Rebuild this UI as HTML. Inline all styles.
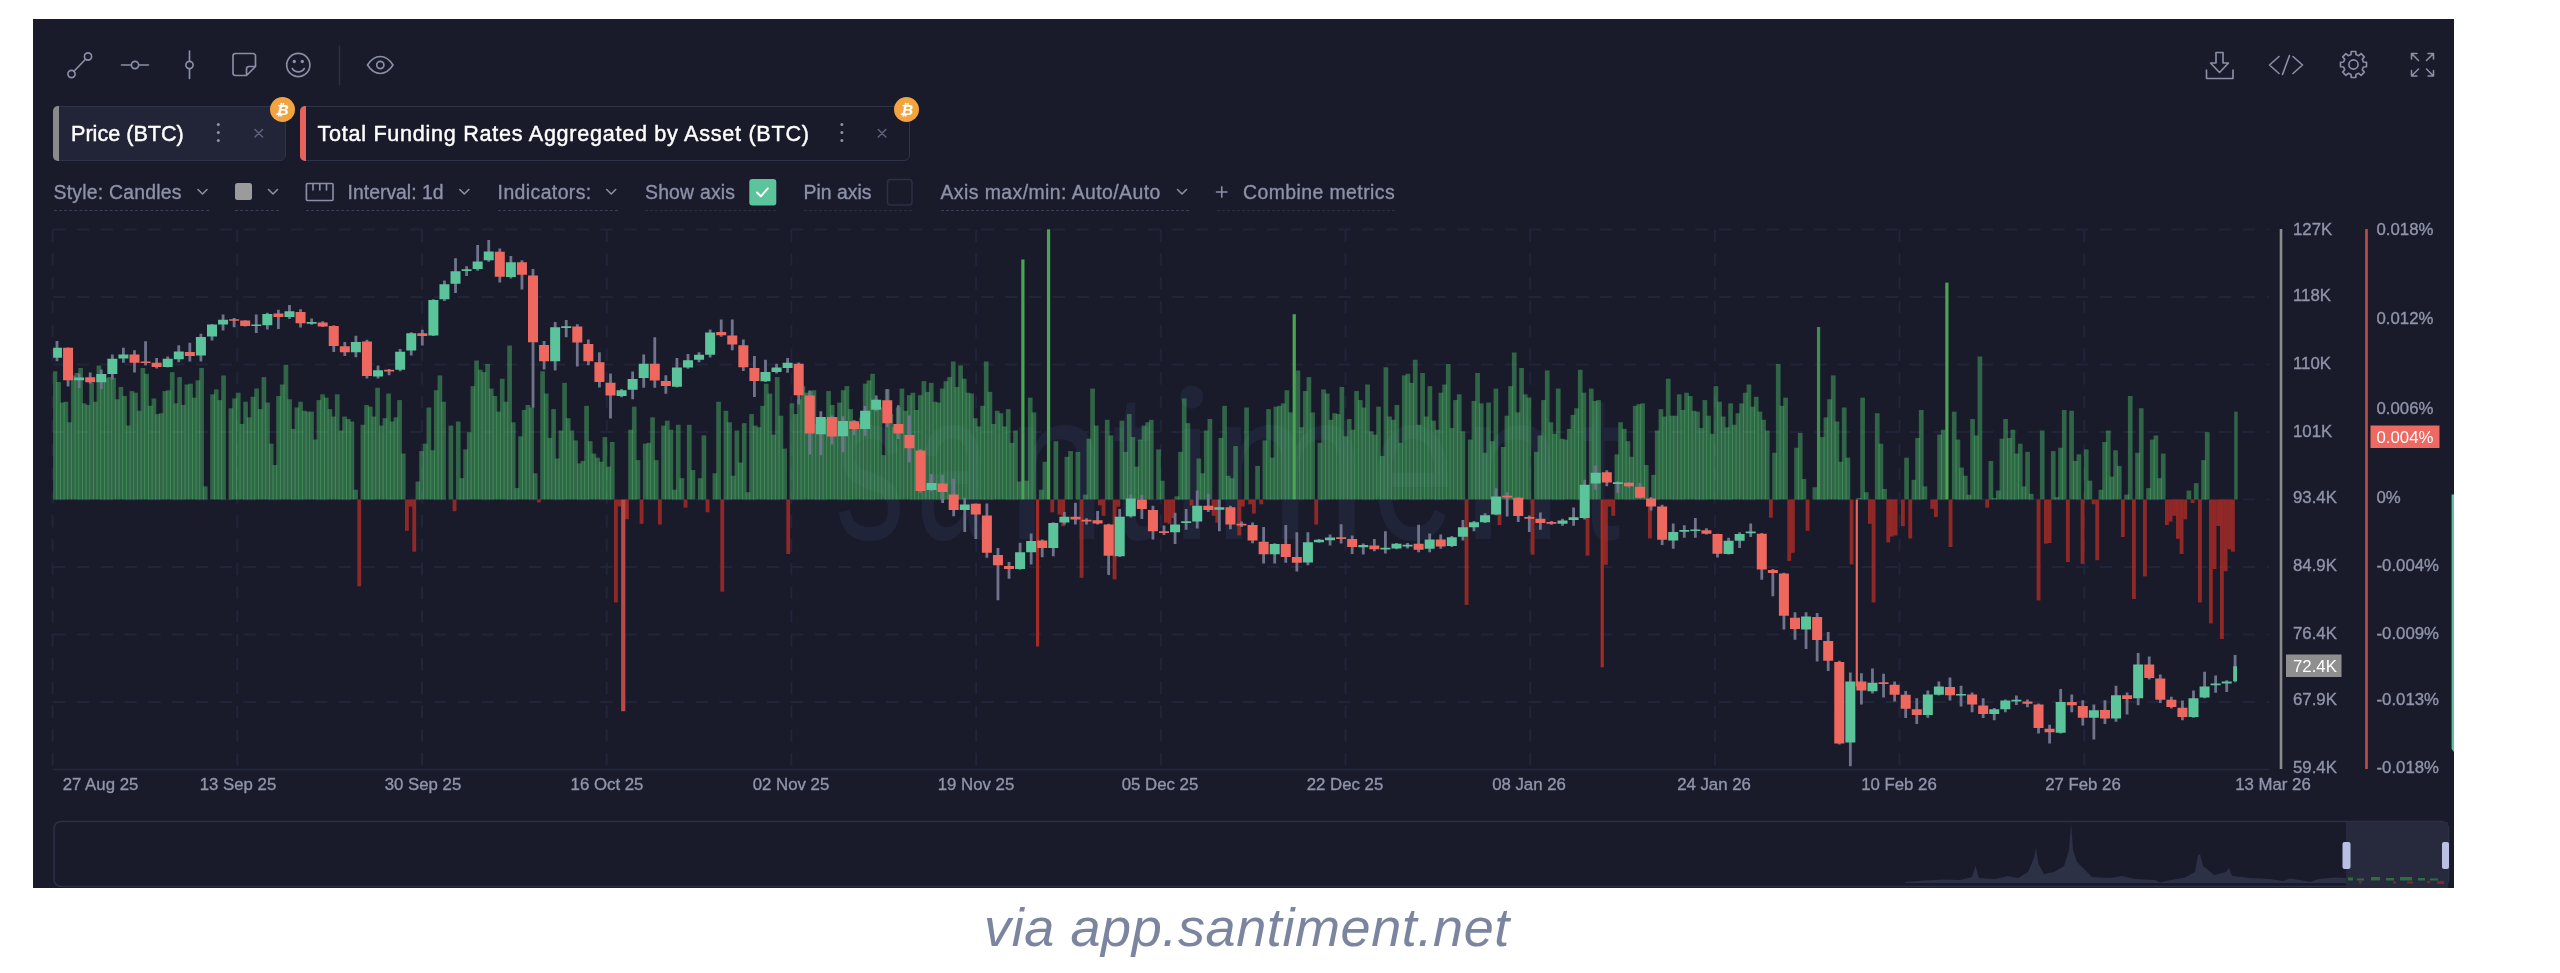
<!DOCTYPE html>
<html lang="en"><head><meta charset="utf-8"><title>Santiment chart</title>
<style>
html,body{margin:0;padding:0}
body{width:2560px;height:973px;background:#fff;position:relative;overflow:hidden;font-family:"Liberation Sans",sans-serif}
#panel{position:absolute;left:33px;top:19px;width:2421px;height:869px;background:#191b2a}
#w{position:absolute;left:0;top:0;width:2454px;height:888px;overflow:hidden;filter:blur(0.55px)}
.ab{position:absolute;white-space:nowrap}
.chip{position:absolute;top:105.5px;height:55px;border:1.6px solid #303449;border-radius:6px;box-sizing:border-box}
.chip .bar{position:absolute;left:-1px;top:-1px;bottom:-1px;width:6px;border-radius:5px 0 0 5px}
.chip .t{position:absolute;top:14.5px;font-size:21.6px;color:#fff;white-space:nowrap;-webkit-text-stroke:0.45px #fff}
.set{position:absolute;top:179px;height:32px;border-bottom:1.6px dashed #3a3e55;box-sizing:border-box;font-size:19.4px;color:#8d92a8;line-height:25px;white-space:nowrap}
.set span{position:absolute;top:0.8px;-webkit-text-stroke:0.35px #8d92a8}
.btc{position:absolute;width:25px;height:25px;border-radius:50%;background:#f2a441;color:#fff;font-size:15px;font-weight:bold;text-align:center;line-height:25px;font-style:italic}
#cap{position:absolute;left:0;width:2494px;top:896px;text-align:center;font-size:54px;font-style:italic;color:#7b85a0;letter-spacing:0.6px;white-space:nowrap;filter:blur(0.5px)}
</style></head><body>
<div id="panel"></div>
<div id="w">
<svg width="2560" height="973" viewBox="0 0 2560 973" style="position:absolute;left:0;top:0">
<defs><filter id="bl" x="0" y="0" width="2560" height="973" filterUnits="userSpaceOnUse"><feGaussianBlur stdDeviation="0.4 0.3"/></filter><clipPath id="cp"><rect x="53.1" y="225" width="2184.6" height="546"/></clipPath></defs>
<g fill="#202439" font-family="Liberation Sans, sans-serif" font-size="212"><text transform="translate(835,539) scale(0.66,1)">s</text><text transform="translate(916,539) scale(0.63,1)">a</text><text transform="translate(1007,539) scale(0.84,1)">n</text><text transform="translate(1112,539) scale(0.67,1)">t</text><rect x="1183.5" y="429" width="16.5" height="110"/><circle cx="1191.7" cy="397" r="11.5"/><text transform="translate(1213,539) scale(0.87,1)">m</text><text transform="translate(1371,539) scale(0.71,1)">e</text><text transform="translate(1463,539) scale(0.84,1)">n</text><text transform="translate(1581,539) scale(0.67,1)">t</text></g>
<g stroke="#212539" stroke-width="2" stroke-dasharray="12.5 11.3" fill="none">
<path d="M53 229.5H2269"/>
<path d="M53 297H2269"/>
<path d="M53 364.5H2269"/>
<path d="M53 432H2269"/>
<path d="M53 499.5H2269"/>
<path d="M53 567H2269"/>
<path d="M53 634.5H2269"/>
<path d="M53 702H2269"/>
<path d="M52.6 229.5V769"/>
<path d="M237.3 229.5V769"/>
<path d="M422 229.5V769"/>
<path d="M606.7 229.5V769"/>
<path d="M791.4 229.5V769"/>
<path d="M976.1 229.5V769"/>
<path d="M1160.8 229.5V769"/>
<path d="M1345.5 229.5V769"/>
<path d="M1530.2 229.5V769"/>
<path d="M1714.9 229.5V769"/>
<path d="M1899.6 229.5V769"/>
<path d="M2084.3 229.5V769"/>
</g>
<path d="M53 769.5H2269" stroke="#26293d" stroke-width="1.6"/>
<g clip-path="url(#cp)">
<g fill="#50c36e" fill-opacity="0.44" filter="url(#bl)">
<path d="M52.55 371.31h4.7V499.5h-4.7z"/>
<path d="M56.22 382h4.7V499.5h-4.7z"/>
<path d="M59.88 402.56h4.7V499.5h-4.7z"/>
<path d="M63.55 401.73h4.7V499.5h-4.7z"/>
<path d="M67.22 422.29h4.7V499.5h-4.7z"/>
<path d="M70.88 375.42h4.7V499.5h-4.7z"/>
<path d="M74.55 372.96h4.7V499.5h-4.7z"/>
<path d="M78.22 368.02h4.7V499.5h-4.7z"/>
<path d="M81.88 403.38h4.7V499.5h-4.7z"/>
<path d="M85.55 405.02h4.7V499.5h-4.7z"/>
<path d="M89.22 382.82h4.7V499.5h-4.7z"/>
<path d="M92.88 401.73h4.7V499.5h-4.7z"/>
<path d="M96.55 365.56h4.7V499.5h-4.7z"/>
<path d="M100.22 374.6h4.7V499.5h-4.7z"/>
<path d="M103.88 377.89h4.7V499.5h-4.7z"/>
<path d="M107.55 377.07h4.7V499.5h-4.7z"/>
<path d="M111.22 377.89h4.7V499.5h-4.7z"/>
<path d="M114.88 399.27h4.7V499.5h-4.7z"/>
<path d="M118.55 386.93h4.7V499.5h-4.7z"/>
<path d="M122.22 395.98h4.7V499.5h-4.7z"/>
<path d="M125.88 425.58h4.7V499.5h-4.7z"/>
<path d="M129.55 391.05h4.7V499.5h-4.7z"/>
<path d="M133.22 392.69h4.7V499.5h-4.7z"/>
<path d="M136.88 410.78h4.7V499.5h-4.7z"/>
<path d="M140.55 368.02h4.7V499.5h-4.7z"/>
<path d="M144.22 373.78h4.7V499.5h-4.7z"/>
<path d="M147.88 405.85h4.7V499.5h-4.7z"/>
<path d="M151.55 398.45h4.7V499.5h-4.7z"/>
<path d="M155.22 414.07h4.7V499.5h-4.7z"/>
<path d="M158.88 413.25h4.7V499.5h-4.7z"/>
<path d="M162.55 391.05h4.7V499.5h-4.7z"/>
<path d="M166.22 390.22h4.7V499.5h-4.7z"/>
<path d="M169.88 372.13h4.7V499.5h-4.7z"/>
<path d="M173.55 403.38h4.7V499.5h-4.7z"/>
<path d="M177.22 377.07h4.7V499.5h-4.7z"/>
<path d="M180.88 405.02h4.7V499.5h-4.7z"/>
<path d="M184.55 384.47h4.7V499.5h-4.7z"/>
<path d="M188.22 383.64h4.7V499.5h-4.7z"/>
<path d="M191.88 397.62h4.7V499.5h-4.7z"/>
<path d="M195.55 380.36h4.7V499.5h-4.7z"/>
<path d="M199.22 368.02h4.7V499.5h-4.7z"/>
<path d="M202.88 486.42h4.7V499.5h-4.7z"/>
<path d="M210.22 394.33h4.7V499.5h-4.7z"/>
<path d="M213.88 389.4h4.7V499.5h-4.7z"/>
<path d="M217.55 400.09h4.7V499.5h-4.7z"/>
<path d="M221.22 375.42h4.7V499.5h-4.7z"/>
<path d="M228.55 408.31h4.7V499.5h-4.7z"/>
<path d="M232.22 398.45h4.7V499.5h-4.7z"/>
<path d="M235.88 392.69h4.7V499.5h-4.7z"/>
<path d="M239.55 423.93h4.7V499.5h-4.7z"/>
<path d="M243.22 401.73h4.7V499.5h-4.7z"/>
<path d="M246.88 417.36h4.7V499.5h-4.7z"/>
<path d="M250.55 396.8h4.7V499.5h-4.7z"/>
<path d="M254.22 388.58h4.7V499.5h-4.7z"/>
<path d="M257.88 409.13h4.7V499.5h-4.7z"/>
<path d="M261.55 377.07h4.7V499.5h-4.7z"/>
<path d="M265.22 402.56h4.7V499.5h-4.7z"/>
<path d="M268.88 443.67h4.7V499.5h-4.7z"/>
<path d="M272.55 465.05h4.7V499.5h-4.7z"/>
<path d="M276.22 395.98h4.7V499.5h-4.7z"/>
<path d="M279.88 384.47h4.7V499.5h-4.7z"/>
<path d="M283.55 364.73h4.7V499.5h-4.7z"/>
<path d="M287.22 399.27h4.7V499.5h-4.7z"/>
<path d="M290.88 428.87h4.7V499.5h-4.7z"/>
<path d="M294.55 407.49h4.7V499.5h-4.7z"/>
<path d="M298.22 401.73h4.7V499.5h-4.7z"/>
<path d="M301.88 410.78h4.7V499.5h-4.7z"/>
<path d="M305.55 411.6h4.7V499.5h-4.7z"/>
<path d="M309.22 411.6h4.7V499.5h-4.7z"/>
<path d="M312.88 439.56h4.7V499.5h-4.7z"/>
<path d="M316.55 400.09h4.7V499.5h-4.7z"/>
<path d="M320.22 394.33h4.7V499.5h-4.7z"/>
<path d="M323.88 397.62h4.7V499.5h-4.7z"/>
<path d="M327.55 409.13h4.7V499.5h-4.7z"/>
<path d="M331.22 416.53h4.7V499.5h-4.7z"/>
<path d="M334.88 394.33h4.7V499.5h-4.7z"/>
<path d="M338.55 430.51h4.7V499.5h-4.7z"/>
<path d="M342.22 416.53h4.7V499.5h-4.7z"/>
<path d="M345.88 419h4.7V499.5h-4.7z"/>
<path d="M349.55 421.47h4.7V499.5h-4.7z"/>
<path d="M353.22 489.71h4.7V499.5h-4.7z"/>
<path d="M360.55 424.76h4.7V499.5h-4.7z"/>
<path d="M364.22 405.02h4.7V499.5h-4.7z"/>
<path d="M367.88 406.67h4.7V499.5h-4.7z"/>
<path d="M371.55 416.53h4.7V499.5h-4.7z"/>
<path d="M375.22 387.76h4.7V499.5h-4.7z"/>
<path d="M378.88 425.58h4.7V499.5h-4.7z"/>
<path d="M382.55 418.18h4.7V499.5h-4.7z"/>
<path d="M386.22 393.51h4.7V499.5h-4.7z"/>
<path d="M389.88 421.47h4.7V499.5h-4.7z"/>
<path d="M393.55 417.36h4.7V499.5h-4.7z"/>
<path d="M397.22 400.09h4.7V499.5h-4.7z"/>
<path d="M400.88 453.53h4.7V499.5h-4.7z"/>
<path d="M415.55 481.49h4.7V499.5h-4.7z"/>
<path d="M419.22 451.07h4.7V499.5h-4.7z"/>
<path d="M422.88 443.67h4.7V499.5h-4.7z"/>
<path d="M426.55 407.49h4.7V499.5h-4.7z"/>
<path d="M430.22 450.25h4.7V499.5h-4.7z"/>
<path d="M433.88 390.22h4.7V499.5h-4.7z"/>
<path d="M437.55 375.42h4.7V499.5h-4.7z"/>
<path d="M441.22 401.73h4.7V499.5h-4.7z"/>
<path d="M448.55 425.58h4.7V499.5h-4.7z"/>
<path d="M455.88 421.47h4.7V499.5h-4.7z"/>
<path d="M459.55 478.2h4.7V499.5h-4.7z"/>
<path d="M463.22 449.42h4.7V499.5h-4.7z"/>
<path d="M466.88 432.16h4.7V499.5h-4.7z"/>
<path d="M470.55 386.11h4.7V499.5h-4.7z"/>
<path d="M474.22 360.62h4.7V499.5h-4.7z"/>
<path d="M477.88 369.67h4.7V499.5h-4.7z"/>
<path d="M481.55 372.13h4.7V499.5h-4.7z"/>
<path d="M485.22 363.91h4.7V499.5h-4.7z"/>
<path d="M488.88 388.58h4.7V499.5h-4.7z"/>
<path d="M492.55 395.98h4.7V499.5h-4.7z"/>
<path d="M496.22 411.6h4.7V499.5h-4.7z"/>
<path d="M499.88 378.71h4.7V499.5h-4.7z"/>
<path d="M503.55 401.73h4.7V499.5h-4.7z"/>
<path d="M507.22 345.4h4.7V499.5h-4.7z"/>
<path d="M510.88 422.29h4.7V499.5h-4.7z"/>
<path d="M514.55 488.07h4.7V499.5h-4.7z"/>
<path d="M518.22 436.27h4.7V499.5h-4.7z"/>
<path d="M521.88 409.96h4.7V499.5h-4.7z"/>
<path d="M525.55 405.02h4.7V499.5h-4.7z"/>
<path d="M529.22 407.49h4.7V499.5h-4.7z"/>
<path d="M532.88 473.27h4.7V499.5h-4.7z"/>
<path d="M540.22 371.31h4.7V499.5h-4.7z"/>
<path d="M543.88 393.51h4.7V499.5h-4.7z"/>
<path d="M547.55 437.91h4.7V499.5h-4.7z"/>
<path d="M551.22 409.13h4.7V499.5h-4.7z"/>
<path d="M554.88 458.47h4.7V499.5h-4.7z"/>
<path d="M558.55 430.51h4.7V499.5h-4.7z"/>
<path d="M562.22 382.82h4.7V499.5h-4.7z"/>
<path d="M565.88 418.18h4.7V499.5h-4.7z"/>
<path d="M569.55 430.51h4.7V499.5h-4.7z"/>
<path d="M573.22 440.38h4.7V499.5h-4.7z"/>
<path d="M576.88 463.4h4.7V499.5h-4.7z"/>
<path d="M580.55 460.93h4.7V499.5h-4.7z"/>
<path d="M584.22 405.85h4.7V499.5h-4.7z"/>
<path d="M587.88 441.2h4.7V499.5h-4.7z"/>
<path d="M591.55 453.53h4.7V499.5h-4.7z"/>
<path d="M595.22 457.65h4.7V499.5h-4.7z"/>
<path d="M598.88 461.76h4.7V499.5h-4.7z"/>
<path d="M602.55 437.09h4.7V499.5h-4.7z"/>
<path d="M606.22 466.69h4.7V499.5h-4.7z"/>
<path d="M609.88 442.02h4.7V499.5h-4.7z"/>
<path d="M628.22 429.69h4.7V499.5h-4.7z"/>
<path d="M631.88 406.67h4.7V499.5h-4.7z"/>
<path d="M635.55 460.11h4.7V499.5h-4.7z"/>
<path d="M642.88 443.67h4.7V499.5h-4.7z"/>
<path d="M646.55 442.85h4.7V499.5h-4.7z"/>
<path d="M650.22 417.36h4.7V499.5h-4.7z"/>
<path d="M653.88 460.11h4.7V499.5h-4.7z"/>
<path d="M661.22 425.58h4.7V499.5h-4.7z"/>
<path d="M664.88 420.65h4.7V499.5h-4.7z"/>
<path d="M668.55 429.69h4.7V499.5h-4.7z"/>
<path d="M672.22 489.71h4.7V499.5h-4.7z"/>
<path d="M675.88 424.76h4.7V499.5h-4.7z"/>
<path d="M679.55 478.2h4.7V499.5h-4.7z"/>
<path d="M686.88 424.76h4.7V499.5h-4.7z"/>
<path d="M690.55 469.98h4.7V499.5h-4.7z"/>
<path d="M697.88 478.2h4.7V499.5h-4.7z"/>
<path d="M701.55 435.45h4.7V499.5h-4.7z"/>
<path d="M712.55 473.27h4.7V499.5h-4.7z"/>
<path d="M716.22 401.73h4.7V499.5h-4.7z"/>
<path d="M723.55 410.78h4.7V499.5h-4.7z"/>
<path d="M727.22 422.29h4.7V499.5h-4.7z"/>
<path d="M730.88 475.74h4.7V499.5h-4.7z"/>
<path d="M734.55 430.51h4.7V499.5h-4.7z"/>
<path d="M738.22 462.58h4.7V499.5h-4.7z"/>
<path d="M741.88 423.11h4.7V499.5h-4.7z"/>
<path d="M745.55 492.18h4.7V499.5h-4.7z"/>
<path d="M749.22 414.07h4.7V499.5h-4.7z"/>
<path d="M752.88 425.58h4.7V499.5h-4.7z"/>
<path d="M756.55 427.22h4.7V499.5h-4.7z"/>
<path d="M760.22 405.85h4.7V499.5h-4.7z"/>
<path d="M763.88 383.64h4.7V499.5h-4.7z"/>
<path d="M767.55 393.51h4.7V499.5h-4.7z"/>
<path d="M771.22 434.62h4.7V499.5h-4.7z"/>
<path d="M774.88 377.07h4.7V499.5h-4.7z"/>
<path d="M778.55 415.71h4.7V499.5h-4.7z"/>
<path d="M782.22 448.6h4.7V499.5h-4.7z"/>
<path d="M789.55 403.38h4.7V499.5h-4.7z"/>
<path d="M793.22 414.07h4.7V499.5h-4.7z"/>
<path d="M796.88 399.27h4.7V499.5h-4.7z"/>
<path d="M800.55 386.11h4.7V499.5h-4.7z"/>
<path d="M804.22 392.69h4.7V499.5h-4.7z"/>
<path d="M807.88 391.05h4.7V499.5h-4.7z"/>
<path d="M811.55 390.22h4.7V499.5h-4.7z"/>
<path d="M815.22 423.93h4.7V499.5h-4.7z"/>
<path d="M818.88 417.36h4.7V499.5h-4.7z"/>
<path d="M822.55 419h4.7V499.5h-4.7z"/>
<path d="M826.22 391.05h4.7V499.5h-4.7z"/>
<path d="M829.88 405.02h4.7V499.5h-4.7z"/>
<path d="M833.55 417.36h4.7V499.5h-4.7z"/>
<path d="M837.22 402.56h4.7V499.5h-4.7z"/>
<path d="M840.88 390.22h4.7V499.5h-4.7z"/>
<path d="M844.55 386.11h4.7V499.5h-4.7z"/>
<path d="M848.22 409.13h4.7V499.5h-4.7z"/>
<path d="M851.88 420.65h4.7V499.5h-4.7z"/>
<path d="M855.55 423.93h4.7V499.5h-4.7z"/>
<path d="M859.22 417.36h4.7V499.5h-4.7z"/>
<path d="M862.88 383.64h4.7V499.5h-4.7z"/>
<path d="M866.55 380.36h4.7V499.5h-4.7z"/>
<path d="M870.22 373.78h4.7V499.5h-4.7z"/>
<path d="M873.88 399.27h4.7V499.5h-4.7z"/>
<path d="M877.55 407.49h4.7V499.5h-4.7z"/>
<path d="M881.22 455.18h4.7V499.5h-4.7z"/>
<path d="M884.88 389.4h4.7V499.5h-4.7z"/>
<path d="M888.55 414.07h4.7V499.5h-4.7z"/>
<path d="M892.22 427.22h4.7V499.5h-4.7z"/>
<path d="M895.88 407.49h4.7V499.5h-4.7z"/>
<path d="M899.55 388.58h4.7V499.5h-4.7z"/>
<path d="M903.22 410.78h4.7V499.5h-4.7z"/>
<path d="M906.88 395.16h4.7V499.5h-4.7z"/>
<path d="M910.55 392.69h4.7V499.5h-4.7z"/>
<path d="M914.22 409.96h4.7V499.5h-4.7z"/>
<path d="M917.88 395.16h4.7V499.5h-4.7z"/>
<path d="M921.55 381.18h4.7V499.5h-4.7z"/>
<path d="M925.22 391.87h4.7V499.5h-4.7z"/>
<path d="M928.88 382.82h4.7V499.5h-4.7z"/>
<path d="M932.55 401.73h4.7V499.5h-4.7z"/>
<path d="M936.22 402.56h4.7V499.5h-4.7z"/>
<path d="M939.88 388.58h4.7V499.5h-4.7z"/>
<path d="M943.55 381.18h4.7V499.5h-4.7z"/>
<path d="M947.22 377.07h4.7V499.5h-4.7z"/>
<path d="M950.88 361.44h4.7V499.5h-4.7z"/>
<path d="M954.55 386.93h4.7V499.5h-4.7z"/>
<path d="M958.22 365.56h4.7V499.5h-4.7z"/>
<path d="M961.88 378.71h4.7V499.5h-4.7z"/>
<path d="M965.55 392.69h4.7V499.5h-4.7z"/>
<path d="M969.22 393.51h4.7V499.5h-4.7z"/>
<path d="M972.88 418.18h4.7V499.5h-4.7z"/>
<path d="M976.55 426.4h4.7V499.5h-4.7z"/>
<path d="M980.22 405.85h4.7V499.5h-4.7z"/>
<path d="M983.88 361.44h4.7V499.5h-4.7z"/>
<path d="M987.55 391.87h4.7V499.5h-4.7z"/>
<path d="M991.22 423.93h4.7V499.5h-4.7z"/>
<path d="M994.88 410.78h4.7V499.5h-4.7z"/>
<path d="M998.55 413.25h4.7V499.5h-4.7z"/>
<path d="M1002.22 426.4h4.7V499.5h-4.7z"/>
<path d="M1005.88 409.13h4.7V499.5h-4.7z"/>
<path d="M1009.55 442.85h4.7V499.5h-4.7z"/>
<path d="M1013.22 430.51h4.7V499.5h-4.7z"/>
<path d="M1016.88 481.49h4.7V499.5h-4.7z"/>
<path d="M1024.22 480.67h4.7V499.5h-4.7z"/>
<path d="M1027.88 397.62h4.7V499.5h-4.7z"/>
<path d="M1031.55 412.42h4.7V499.5h-4.7z"/>
<path d="M1038.88 489.71h4.7V499.5h-4.7z"/>
<path d="M1042.55 461.76h4.7V499.5h-4.7z"/>
<path d="M1053.55 441.2h4.7V499.5h-4.7z"/>
<path d="M1064.55 456.82h4.7V499.5h-4.7z"/>
<path d="M1068.22 451.07h4.7V499.5h-4.7z"/>
<path d="M1075.55 451.89h4.7V499.5h-4.7z"/>
<path d="M1082.88 494.65h4.7V499.5h-4.7z"/>
<path d="M1086.55 438.73h4.7V499.5h-4.7z"/>
<path d="M1090.22 388.58h4.7V499.5h-4.7z"/>
<path d="M1093.88 425.58h4.7V499.5h-4.7z"/>
<path d="M1104.88 419.82h4.7V499.5h-4.7z"/>
<path d="M1108.55 435.45h4.7V499.5h-4.7z"/>
<path d="M1119.55 420.65h4.7V499.5h-4.7z"/>
<path d="M1123.22 451.89h4.7V499.5h-4.7z"/>
<path d="M1126.88 414.07h4.7V499.5h-4.7z"/>
<path d="M1130.55 437.09h4.7V499.5h-4.7z"/>
<path d="M1134.22 466.69h4.7V499.5h-4.7z"/>
<path d="M1137.88 439.56h4.7V499.5h-4.7z"/>
<path d="M1141.55 425.58h4.7V499.5h-4.7z"/>
<path d="M1145.22 422.29h4.7V499.5h-4.7z"/>
<path d="M1148.88 419.82h4.7V499.5h-4.7z"/>
<path d="M1156.22 449.42h4.7V499.5h-4.7z"/>
<path d="M1159.88 480.67h4.7V499.5h-4.7z"/>
<path d="M1174.55 496.29h4.7V499.5h-4.7z"/>
<path d="M1178.22 451.89h4.7V499.5h-4.7z"/>
<path d="M1181.88 398.45h4.7V499.5h-4.7z"/>
<path d="M1185.55 423.11h4.7V499.5h-4.7z"/>
<path d="M1196.55 458.47h4.7V499.5h-4.7z"/>
<path d="M1200.22 473.27h4.7V499.5h-4.7z"/>
<path d="M1203.88 430.51h4.7V499.5h-4.7z"/>
<path d="M1207.55 419h4.7V499.5h-4.7z"/>
<path d="M1218.55 437.91h4.7V499.5h-4.7z"/>
<path d="M1222.22 405.85h4.7V499.5h-4.7z"/>
<path d="M1225.88 475.74h4.7V499.5h-4.7z"/>
<path d="M1229.55 478.2h4.7V499.5h-4.7z"/>
<path d="M1233.22 446.13h4.7V499.5h-4.7z"/>
<path d="M1244.22 407.49h4.7V499.5h-4.7z"/>
<path d="M1255.22 465.87h4.7V499.5h-4.7z"/>
<path d="M1262.55 440.38h4.7V499.5h-4.7z"/>
<path d="M1266.22 409.13h4.7V499.5h-4.7z"/>
<path d="M1269.88 457.65h4.7V499.5h-4.7z"/>
<path d="M1273.55 406.67h4.7V499.5h-4.7z"/>
<path d="M1277.22 405.85h4.7V499.5h-4.7z"/>
<path d="M1280.88 403.38h4.7V499.5h-4.7z"/>
<path d="M1284.55 390.22h4.7V499.5h-4.7z"/>
<path d="M1288.22 412.42h4.7V499.5h-4.7z"/>
<path d="M1295.55 370.49h4.7V499.5h-4.7z"/>
<path d="M1299.22 427.22h4.7V499.5h-4.7z"/>
<path d="M1302.88 391.05h4.7V499.5h-4.7z"/>
<path d="M1306.55 377.07h4.7V499.5h-4.7z"/>
<path d="M1310.22 412.42h4.7V499.5h-4.7z"/>
<path d="M1317.55 442.85h4.7V499.5h-4.7z"/>
<path d="M1321.22 389.4h4.7V499.5h-4.7z"/>
<path d="M1324.88 393.51h4.7V499.5h-4.7z"/>
<path d="M1328.55 419.82h4.7V499.5h-4.7z"/>
<path d="M1332.22 413.25h4.7V499.5h-4.7z"/>
<path d="M1335.88 414.07h4.7V499.5h-4.7z"/>
<path d="M1339.55 386.93h4.7V499.5h-4.7z"/>
<path d="M1343.22 436.27h4.7V499.5h-4.7z"/>
<path d="M1346.88 419h4.7V499.5h-4.7z"/>
<path d="M1350.55 429.69h4.7V499.5h-4.7z"/>
<path d="M1354.22 391.05h4.7V499.5h-4.7z"/>
<path d="M1357.88 400.09h4.7V499.5h-4.7z"/>
<path d="M1361.55 407.49h4.7V499.5h-4.7z"/>
<path d="M1365.22 384.47h4.7V499.5h-4.7z"/>
<path d="M1368.88 431.33h4.7V499.5h-4.7z"/>
<path d="M1372.55 434.62h4.7V499.5h-4.7z"/>
<path d="M1376.22 406.67h4.7V499.5h-4.7z"/>
<path d="M1379.88 456h4.7V499.5h-4.7z"/>
<path d="M1383.55 367.2h4.7V499.5h-4.7z"/>
<path d="M1387.22 416.53h4.7V499.5h-4.7z"/>
<path d="M1390.88 419.82h4.7V499.5h-4.7z"/>
<path d="M1394.55 405.02h4.7V499.5h-4.7z"/>
<path d="M1398.22 442.85h4.7V499.5h-4.7z"/>
<path d="M1401.88 375.42h4.7V499.5h-4.7z"/>
<path d="M1405.55 373.78h4.7V499.5h-4.7z"/>
<path d="M1409.22 382.82h4.7V499.5h-4.7z"/>
<path d="M1412.88 359.8h4.7V499.5h-4.7z"/>
<path d="M1416.55 424.76h4.7V499.5h-4.7z"/>
<path d="M1420.22 372.96h4.7V499.5h-4.7z"/>
<path d="M1423.88 416.53h4.7V499.5h-4.7z"/>
<path d="M1427.55 386.11h4.7V499.5h-4.7z"/>
<path d="M1431.22 420.65h4.7V499.5h-4.7z"/>
<path d="M1434.88 429.69h4.7V499.5h-4.7z"/>
<path d="M1438.55 392.69h4.7V499.5h-4.7z"/>
<path d="M1442.22 384.47h4.7V499.5h-4.7z"/>
<path d="M1445.88 363.91h4.7V499.5h-4.7z"/>
<path d="M1449.55 428.05h4.7V499.5h-4.7z"/>
<path d="M1453.22 400.09h4.7V499.5h-4.7z"/>
<path d="M1456.88 394.33h4.7V499.5h-4.7z"/>
<path d="M1460.55 431.33h4.7V499.5h-4.7z"/>
<path d="M1467.88 439.56h4.7V499.5h-4.7z"/>
<path d="M1471.55 400.91h4.7V499.5h-4.7z"/>
<path d="M1475.22 372.96h4.7V499.5h-4.7z"/>
<path d="M1478.88 403.38h4.7V499.5h-4.7z"/>
<path d="M1482.55 452.71h4.7V499.5h-4.7z"/>
<path d="M1486.22 402.56h4.7V499.5h-4.7z"/>
<path d="M1489.88 441.2h4.7V499.5h-4.7z"/>
<path d="M1493.55 388.58h4.7V499.5h-4.7z"/>
<path d="M1500.88 446.96h4.7V499.5h-4.7z"/>
<path d="M1504.55 415.71h4.7V499.5h-4.7z"/>
<path d="M1508.22 386.11h4.7V499.5h-4.7z"/>
<path d="M1511.88 352.4h4.7V499.5h-4.7z"/>
<path d="M1515.55 412.42h4.7V499.5h-4.7z"/>
<path d="M1519.22 368.02h4.7V499.5h-4.7z"/>
<path d="M1522.88 394.33h4.7V499.5h-4.7z"/>
<path d="M1526.55 397.62h4.7V499.5h-4.7z"/>
<path d="M1533.88 451.89h4.7V499.5h-4.7z"/>
<path d="M1537.55 435.45h4.7V499.5h-4.7z"/>
<path d="M1541.22 400.09h4.7V499.5h-4.7z"/>
<path d="M1544.88 370.49h4.7V499.5h-4.7z"/>
<path d="M1548.55 422.29h4.7V499.5h-4.7z"/>
<path d="M1552.22 433.8h4.7V499.5h-4.7z"/>
<path d="M1555.88 388.58h4.7V499.5h-4.7z"/>
<path d="M1559.55 438.73h4.7V499.5h-4.7z"/>
<path d="M1563.22 439.56h4.7V499.5h-4.7z"/>
<path d="M1566.88 428.87h4.7V499.5h-4.7z"/>
<path d="M1570.55 414.89h4.7V499.5h-4.7z"/>
<path d="M1574.22 408.31h4.7V499.5h-4.7z"/>
<path d="M1577.88 369.67h4.7V499.5h-4.7z"/>
<path d="M1581.55 392.69h4.7V499.5h-4.7z"/>
<path d="M1588.88 388.58h4.7V499.5h-4.7z"/>
<path d="M1592.55 400.91h4.7V499.5h-4.7z"/>
<path d="M1596.22 400.09h4.7V499.5h-4.7z"/>
<path d="M1614.55 454.36h4.7V499.5h-4.7z"/>
<path d="M1618.22 422.29h4.7V499.5h-4.7z"/>
<path d="M1621.88 428.87h4.7V499.5h-4.7z"/>
<path d="M1625.55 441.2h4.7V499.5h-4.7z"/>
<path d="M1629.22 456.82h4.7V499.5h-4.7z"/>
<path d="M1632.88 405.85h4.7V499.5h-4.7z"/>
<path d="M1636.55 404.2h4.7V499.5h-4.7z"/>
<path d="M1640.22 403.38h4.7V499.5h-4.7z"/>
<path d="M1643.88 465.05h4.7V499.5h-4.7z"/>
<path d="M1651.22 474.91h4.7V499.5h-4.7z"/>
<path d="M1654.88 430.51h4.7V499.5h-4.7z"/>
<path d="M1658.55 409.13h4.7V499.5h-4.7z"/>
<path d="M1662.22 416.53h4.7V499.5h-4.7z"/>
<path d="M1665.88 378.71h4.7V499.5h-4.7z"/>
<path d="M1669.55 415.71h4.7V499.5h-4.7z"/>
<path d="M1673.22 415.71h4.7V499.5h-4.7z"/>
<path d="M1676.88 394.33h4.7V499.5h-4.7z"/>
<path d="M1680.55 409.96h4.7V499.5h-4.7z"/>
<path d="M1684.22 392.69h4.7V499.5h-4.7z"/>
<path d="M1687.88 395.98h4.7V499.5h-4.7z"/>
<path d="M1691.55 410.78h4.7V499.5h-4.7z"/>
<path d="M1695.22 411.6h4.7V499.5h-4.7z"/>
<path d="M1698.88 428.05h4.7V499.5h-4.7z"/>
<path d="M1702.55 400.09h4.7V499.5h-4.7z"/>
<path d="M1706.22 415.71h4.7V499.5h-4.7z"/>
<path d="M1709.88 433.8h4.7V499.5h-4.7z"/>
<path d="M1713.55 386.11h4.7V499.5h-4.7z"/>
<path d="M1717.22 401.73h4.7V499.5h-4.7z"/>
<path d="M1720.88 416.53h4.7V499.5h-4.7z"/>
<path d="M1724.55 427.22h4.7V499.5h-4.7z"/>
<path d="M1728.22 403.38h4.7V499.5h-4.7z"/>
<path d="M1731.88 424.76h4.7V499.5h-4.7z"/>
<path d="M1735.55 413.25h4.7V499.5h-4.7z"/>
<path d="M1739.22 403.38h4.7V499.5h-4.7z"/>
<path d="M1742.88 392.69h4.7V499.5h-4.7z"/>
<path d="M1746.55 384.47h4.7V499.5h-4.7z"/>
<path d="M1750.22 406.67h4.7V499.5h-4.7z"/>
<path d="M1753.88 396.8h4.7V499.5h-4.7z"/>
<path d="M1757.55 411.6h4.7V499.5h-4.7z"/>
<path d="M1761.22 419.82h4.7V499.5h-4.7z"/>
<path d="M1764.88 430.51h4.7V499.5h-4.7z"/>
<path d="M1772.22 452.71h4.7V499.5h-4.7z"/>
<path d="M1775.88 363.91h4.7V499.5h-4.7z"/>
<path d="M1779.55 405.85h4.7V499.5h-4.7z"/>
<path d="M1783.22 397.62h4.7V499.5h-4.7z"/>
<path d="M1794.22 447.78h4.7V499.5h-4.7z"/>
<path d="M1797.88 432.98h4.7V499.5h-4.7z"/>
<path d="M1801.55 479.02h4.7V499.5h-4.7z"/>
<path d="M1812.55 487.25h4.7V499.5h-4.7z"/>
<path d="M1819.88 437.09h4.7V499.5h-4.7z"/>
<path d="M1823.55 417.36h4.7V499.5h-4.7z"/>
<path d="M1827.22 399.27h4.7V499.5h-4.7z"/>
<path d="M1830.88 375.42h4.7V499.5h-4.7z"/>
<path d="M1834.55 421.47h4.7V499.5h-4.7z"/>
<path d="M1838.22 461.76h4.7V499.5h-4.7z"/>
<path d="M1841.88 407.49h4.7V499.5h-4.7z"/>
<path d="M1845.55 457.65h4.7V499.5h-4.7z"/>
<path d="M1856.55 497.94h4.7V499.5h-4.7z"/>
<path d="M1860.22 397.62h4.7V499.5h-4.7z"/>
<path d="M1863.88 492.18h4.7V499.5h-4.7z"/>
<path d="M1874.88 413.25h4.7V499.5h-4.7z"/>
<path d="M1878.55 443.67h4.7V499.5h-4.7z"/>
<path d="M1882.22 488.89h4.7V499.5h-4.7z"/>
<path d="M1904.22 457.65h4.7V499.5h-4.7z"/>
<path d="M1911.55 479.85h4.7V499.5h-4.7z"/>
<path d="M1915.22 437.91h4.7V499.5h-4.7z"/>
<path d="M1918.88 409.96h4.7V499.5h-4.7z"/>
<path d="M1922.55 486.42h4.7V499.5h-4.7z"/>
<path d="M1937.22 434.62h4.7V499.5h-4.7z"/>
<path d="M1940.88 429.69h4.7V499.5h-4.7z"/>
<path d="M1951.88 411.6h4.7V499.5h-4.7z"/>
<path d="M1955.55 439.56h4.7V499.5h-4.7z"/>
<path d="M1959.22 467.51h4.7V499.5h-4.7z"/>
<path d="M1962.88 475.74h4.7V499.5h-4.7z"/>
<path d="M1966.55 494.65h4.7V499.5h-4.7z"/>
<path d="M1970.22 419h4.7V499.5h-4.7z"/>
<path d="M1973.88 435.45h4.7V499.5h-4.7z"/>
<path d="M1977.55 356.51h4.7V499.5h-4.7z"/>
<path d="M1988.55 460.93h4.7V499.5h-4.7z"/>
<path d="M1992.22 497.94h4.7V499.5h-4.7z"/>
<path d="M1995.88 490.54h4.7V499.5h-4.7z"/>
<path d="M1999.55 438.73h4.7V499.5h-4.7z"/>
<path d="M2003.22 419h4.7V499.5h-4.7z"/>
<path d="M2006.88 437.91h4.7V499.5h-4.7z"/>
<path d="M2010.55 429.69h4.7V499.5h-4.7z"/>
<path d="M2014.22 453.53h4.7V499.5h-4.7z"/>
<path d="M2017.88 443.67h4.7V499.5h-4.7z"/>
<path d="M2021.55 486.42h4.7V499.5h-4.7z"/>
<path d="M2025.22 451.89h4.7V499.5h-4.7z"/>
<path d="M2028.88 493.82h4.7V499.5h-4.7z"/>
<path d="M2039.88 430.51h4.7V499.5h-4.7z"/>
<path d="M2050.88 451.07h4.7V499.5h-4.7z"/>
<path d="M2054.55 497.11h4.7V499.5h-4.7z"/>
<path d="M2058.22 447.78h4.7V499.5h-4.7z"/>
<path d="M2061.88 409.96h4.7V499.5h-4.7z"/>
<path d="M2069.22 410.78h4.7V499.5h-4.7z"/>
<path d="M2072.88 460.93h4.7V499.5h-4.7z"/>
<path d="M2076.55 454.36h4.7V499.5h-4.7z"/>
<path d="M2083.88 449.42h4.7V499.5h-4.7z"/>
<path d="M2087.55 480.67h4.7V499.5h-4.7z"/>
<path d="M2098.55 489.71h4.7V499.5h-4.7z"/>
<path d="M2102.22 442.02h4.7V499.5h-4.7z"/>
<path d="M2105.88 430.51h4.7V499.5h-4.7z"/>
<path d="M2109.55 476.56h4.7V499.5h-4.7z"/>
<path d="M2113.22 450.25h4.7V499.5h-4.7z"/>
<path d="M2116.88 465.87h4.7V499.5h-4.7z"/>
<path d="M2124.22 494.65h4.7V499.5h-4.7z"/>
<path d="M2127.88 395.98h4.7V499.5h-4.7z"/>
<path d="M2135.22 452.71h4.7V499.5h-4.7z"/>
<path d="M2138.88 408.31h4.7V499.5h-4.7z"/>
<path d="M2146.22 488.07h4.7V499.5h-4.7z"/>
<path d="M2149.88 439.56h4.7V499.5h-4.7z"/>
<path d="M2153.55 435.45h4.7V499.5h-4.7z"/>
<path d="M2157.22 478.2h4.7V499.5h-4.7z"/>
<path d="M2160.88 453.53h4.7V499.5h-4.7z"/>
<path d="M2186.55 490.54h4.7V499.5h-4.7z"/>
<path d="M2193.88 483.14h4.7V499.5h-4.7z"/>
<path d="M2201.22 460.11h4.7V499.5h-4.7z"/>
<path d="M2204.88 432.16h4.7V499.5h-4.7z"/>
<path d="M2234.22 411.6h4.7V499.5h-4.7z"/>
</g>
<g fill="#b82d28" fill-opacity="0.74" filter="url(#bl)">
<path d="M357.28 499.5h3.9V586.3h-3.9z"/>
<path d="M404.95 499.5h3.9V530.8h-3.9z"/>
<path d="M408.62 499.5h3.9V506.6h-3.9z"/>
<path d="M412.28 499.5h3.9V551.7h-3.9z"/>
<path d="M452.62 499.5h3.9V511.2h-3.9z"/>
<path d="M536.95 499.5h3.9V502.4h-3.9z"/>
<path d="M613.95 499.5h3.9V602.5h-3.9z"/>
<path d="M617.62 499.5h3.9V506.5h-3.9z"/>
<path d="M624.95 499.5h3.9V519.3h-3.9z"/>
<path d="M639.62 499.5h3.9V523.9h-3.9z"/>
<path d="M657.95 499.5h3.9V524.6h-3.9z"/>
<path d="M683.62 499.5h3.9V507.7h-3.9z"/>
<path d="M705.62 499.5h3.9V512.3h-3.9z"/>
<path d="M720.28 499.5h3.9V591.7h-3.9z"/>
<path d="M786.28 499.5h3.9V554h-3.9z"/>
<path d="M1050.28 499.5h3.9V512.3h-3.9z"/>
<path d="M1057.62 499.5h3.9V514.7h-3.9z"/>
<path d="M1061.28 499.5h3.9V526.2h-3.9z"/>
<path d="M1079.62 499.5h3.9V577.8h-3.9z"/>
<path d="M1097.95 499.5h3.9V505.4h-3.9z"/>
<path d="M1101.62 499.5h3.9V515.8h-3.9z"/>
<path d="M1112.62 499.5h3.9V579.4h-3.9z"/>
<path d="M1116.28 499.5h3.9V506.6h-3.9z"/>
<path d="M1163.95 499.5h3.9V522.75h-3.9z"/>
<path d="M1167.62 499.5h3.9V523.9h-3.9z"/>
<path d="M1171.28 499.5h3.9V518.1h-3.9z"/>
<path d="M1189.62 499.5h3.9V505.4h-3.9z"/>
<path d="M1211.62 499.5h3.9V515.8h-3.9z"/>
<path d="M1215.28 499.5h3.9V522.75h-3.9z"/>
<path d="M1237.28 499.5h3.9V535.5h-3.9z"/>
<path d="M1240.95 499.5h3.9V506.6h-3.9z"/>
<path d="M1248.28 499.5h3.9V504.25h-3.9z"/>
<path d="M1251.95 499.5h3.9V513.5h-3.9z"/>
<path d="M1259.28 499.5h3.9V504.25h-3.9z"/>
<path d="M1314.28 499.5h3.9V524.6h-3.9z"/>
<path d="M1464.62 499.5h3.9V604.9h-3.9z"/>
<path d="M1497.62 499.5h3.9V525.1h-3.9z"/>
<path d="M1530.62 499.5h3.9V554.7h-3.9z"/>
<path d="M1585.62 499.5h3.9V555.6h-3.9z"/>
<path d="M1603.95 499.5h3.9V564.8h-3.9z"/>
<path d="M1607.62 499.5h3.9V506.6h-3.9z"/>
<path d="M1611.28 499.5h3.9V515.8h-3.9z"/>
<path d="M1647.95 499.5h3.9V538.5h-3.9z"/>
<path d="M1768.95 499.5h3.9V517.7h-3.9z"/>
<path d="M1787.28 499.5h3.9V560.9h-3.9z"/>
<path d="M1790.95 499.5h3.9V552.8h-3.9z"/>
<path d="M1805.62 499.5h3.9V530.8h-3.9z"/>
<path d="M1849.62 499.5h3.9V564.4h-3.9z"/>
<path d="M1867.95 499.5h3.9V523.9h-3.9z"/>
<path d="M1871.62 499.5h3.9V602.5h-3.9z"/>
<path d="M1886.28 499.5h3.9V542.4h-3.9z"/>
<path d="M1889.95 499.5h3.9V536.6h-3.9z"/>
<path d="M1893.62 499.5h3.9V535.5h-3.9z"/>
<path d="M1900.95 499.5h3.9V526.2h-3.9z"/>
<path d="M1908.28 499.5h3.9V538.5h-3.9z"/>
<path d="M1930.28 499.5h3.9V508.9h-3.9z"/>
<path d="M1933.95 499.5h3.9V517h-3.9z"/>
<path d="M1948.62 499.5h3.9V547h-3.9z"/>
<path d="M1985.28 499.5h3.9V507.7h-3.9z"/>
<path d="M2036.62 499.5h3.9V600.5h-3.9z"/>
<path d="M2043.95 499.5h3.9V543.6h-3.9z"/>
<path d="M2047.62 499.5h3.9V543.1h-3.9z"/>
<path d="M2065.95 499.5h3.9V562.1h-3.9z"/>
<path d="M2080.62 499.5h3.9V563.9h-3.9z"/>
<path d="M2091.62 499.5h3.9V504.25h-3.9z"/>
<path d="M2095.28 499.5h3.9V560.2h-3.9z"/>
<path d="M2120.95 499.5h3.9V537.1h-3.9z"/>
<path d="M2131.95 499.5h3.9V599.1h-3.9z"/>
<path d="M2142.95 499.5h3.9V576.4h-3.9z"/>
<path d="M2164.95 499.5h3.9V525.1h-3.9z"/>
<path d="M2168.62 499.5h3.9V521.6h-3.9z"/>
<path d="M2172.28 499.5h3.9V515.8h-3.9z"/>
<path d="M2175.95 499.5h3.9V538.9h-3.9z"/>
<path d="M2179.62 499.5h3.9V554h-3.9z"/>
<path d="M2183.28 499.5h3.9V519.3h-3.9z"/>
<path d="M2190.62 499.5h3.9V503.1h-3.9z"/>
<path d="M2197.95 499.5h3.9V602.5h-3.9z"/>
<path d="M2208.95 499.5h3.9V623.4h-3.9z"/>
<path d="M2212.62 499.5h3.9V569h-3.9z"/>
<path d="M2216.28 499.5h3.9V526h-3.9z"/>
<path d="M2219.95 499.5h3.9V638.9h-3.9z"/>
<path d="M2223.62 499.5h3.9V571.3h-3.9z"/>
<path d="M2227.28 499.5h3.9V549.3h-3.9z"/>
<path d="M2230.95 499.5h3.9V551.7h-3.9z"/>
</g>
<rect x="621.13" y="499.5" width="4.2" height="211.7" fill="#b84a48"/>
<rect x="1021.3" y="259.5" width="3.2" height="240" fill="#4aa652"/>
<rect x="1035.97" y="499.5" width="3.2" height="147" fill="#a52b27"/>
<rect x="1046.97" y="229.3" width="3.2" height="270.2" fill="#4aa652"/>
<rect x="1292.63" y="314.2" width="3.2" height="185.3" fill="#4aa652"/>
<rect x="1600.63" y="499.5" width="3.2" height="167.8" fill="#a52b27"/>
<rect x="1816.97" y="327" width="3.2" height="172.5" fill="#3f8f50"/>
<rect x="1945.3" y="282.6" width="3.2" height="216.9" fill="#4aa652"/>
<rect x="1855.7" y="499.5" width="2.2" height="187" fill="#ea655c"/>
<path d="M57 340.94V361.25M68.07 347.5V386.56M79.14 373.75V388.12M90.21 372.5V383.44M101.28 369.38V388.91M112.35 354.53V379.53M123.42 347.81V362.81M134.49 350.31V372.5M145.56 341.25V365.47M156.63 358.12V368.59M167.7 356.56V367.5M178.77 345.16V362.34M189.84 342.81V361.56M200.91 333.75V361.56M211.98 324.06V340.47M223.05 314.38V330.62M234.12 318.12V327.19M245.19 320.16V326.41M256.26 314.38V333.12M267.33 312.81V329.53M278.4 309.69V329.06M289.47 305V319.06M300.54 309.22V327.5M311.61 318.59V324.84M322.68 321.25V326.88M333.75 325.31V351.88M344.82 342.03V356.09M355.89 335.78V357.19M366.96 339.69V378.44M378.03 365.47V378.44M389.1 369.06V375.31M400.17 348.88V371.22M411.24 332.16V355.59M422.31 329.81V345.44M433.38 299.34V336.06M444.45 280.59V300.91M455.52 258.25V293.09M466.59 266.22V275.91M477.66 245.12V270.75M488.73 239.97V261.84M499.8 248.56V282.62M510.87 256.06V278.56M521.94 260.28V289.5M533.01 268.88V407.81M544.08 340.94V369.53M555.15 321.88V370.62M566.22 320V337.19M577.29 324.22V366.41M588.36 339.38V365.31M599.43 352.34V387.5M610.5 373.44V418.44M621.57 389.06V397.19M632.64 371.56V399.22M643.71 354.38V387.81M654.78 337.19V387.81M665.85 375.31V393.75M676.92 358.12V387.5M687.99 353.91V368.75M699.06 352.34V362.19M710.13 329.38V357.5M721.2 319.53V336.72M732.27 319.53V350.31M743.34 339.38V371.09M754.41 355.94V396.88M765.48 359.69V382.03M776.55 363.75V373.44M787.62 358.12V372.66M798.69 362.5V404.38M809.76 390.47V454.53M820.83 411.25V455.31M831.9 415.47V444.38M842.97 416.25V452.19M854.04 420.16V435M865.11 406.09V435.78M876.18 395.62V411.25M887.25 388.91V427.19M898.32 405.31V438.91M909.39 415.47V462.34M920.46 449.06V492.81M931.53 474.06V491.25M942.6 474.84V502.97M953.67 478.75V516.25M964.74 497.5V531.88M975.81 503.44V539.06M986.88 503.44V557.81M997.95 547.97V600.31M1009.02 562.03V578.75M1020.09 542.81V569.84M1031.16 533.44V564.38M1042.23 539.38V557.34M1053.3 522.19V556.25M1064.37 512.03V524.53M1075.44 502.66V524.53M1086.51 518.28V524.53M1097.58 510.94V524.53M1108.65 523.75V575M1119.72 508.91V556.88M1130.79 494.38V517.5M1141.86 494.84V519.06M1152.93 505.78V539.38M1164 525.62V535M1175.07 512.81V544.06M1186.14 508.91V529.69M1197.21 490.62V528.44M1208.28 493.75V512.03M1219.35 499.53V531.25M1230.42 505.78V529.22M1241.49 521.41V526.88M1252.56 522.5V543.28M1263.63 526.88V563.59M1274.7 543.28V563.59M1285.77 525V562.81M1296.84 532.34V571.41M1307.91 532.34V565.16M1318.98 539.06V542.81M1330.05 534.38V545.62M1341.12 524.22V543.44M1352.19 535.62V553.91M1363.26 543.44V554.38M1374.33 539.06V551.25M1385.4 531.25V553.44M1396.47 542.97V549.22M1407.54 542.97V548.44M1418.61 524.69V552.34M1429.68 533.59V552.34M1440.75 534.38V548.75M1451.82 535.94V546.88M1462.89 520V540.62M1473.96 521.09V531.25M1485.03 513.28V523.12M1496.1 488.28V515.31M1507.17 492.19V516.41M1518.24 496.88V521.88M1529.31 515.62V532.03M1540.38 512.5V529.69M1551.45 521.09V524.69M1562.52 518.75V525.78M1573.59 507.5V525.78M1584.66 479.69V519.53M1595.73 465.62V489.84M1606.8 470.31V486.25M1617.87 480.94V492.97M1628.94 482.03V487.5M1640.01 483.12V498.44M1651.08 496.88V510.62M1662.15 504.69V545M1673.22 523.44V548.75M1684.29 525.16V537.66M1695.36 518.12V537.66M1706.43 528.28V534.53M1717.5 533.75V557.5M1728.57 537.66V554.38M1739.64 532.19V548.12M1750.71 523.59V536.88M1761.78 532.97V579.84M1772.85 568.91V596.25M1783.92 572.81V629.38M1794.99 612.34V639.69M1806.06 612.34V649.06M1817.13 613.12V661.56M1828.2 631.88V670.94M1839.27 660.78V744.38M1850.34 672.5V766.25M1861.41 673.28V704.53M1872.48 668.59V693.59M1883.55 673.75V697.5M1894.62 681.56V701.41M1905.69 690.94V718.12M1916.76 698.28V724.06M1927.83 690.47V717.81M1938.9 681.56V695.62M1949.97 677.5V700.62M1961.04 685.78V706.56M1972.11 692.5V712.34M1983.18 698.28V718.12M1994.25 708.12V720.16M2005.32 699.38V712.34M2016.39 695.62V705M2027.46 699.38V707.19M2038.53 703.44V733.44M2049.6 724.84V743.59M2060.67 688.91V733.44M2071.74 694.38V712.34M2082.81 700.31V725.62M2093.88 704.53V739.38M2104.95 700.31V724.06M2116.02 685.78V721.72M2127.09 692.5V714.38M2138.16 652.97V705.31M2149.23 656.56V679.53M2160.3 674.38V702.97M2171.37 696.72V708.44M2182.44 700.62V720.16M2193.51 690.47V717.81M2204.58 671.72V698.28M2215.65 675.62V692.81M2226.72 680.31V692.03M2235.1 655V682.19" stroke="#6f748c" stroke-width="2.8" fill="none"/>
<path d="M52 347.81h10V357.66h-10zM74.14 377.5h10V380.31h-10zM96.28 374.06h10V382.19h-10zM107.35 358.75h10V374.06h-10zM118.42 354.53h10V358.44h-10zM162.7 358.75h10V367.03h-10zM173.77 351.41h10V359.22h-10zM195.91 336.88h10V355.62h-10zM206.98 324.38h10V336.56h-10zM218.05 319.69h10V324.38h-10zM251.26 324.38h10V326.08h-10zM262.33 313.91h10V325.31h-10zM284.47 311.25h10V317.03h-10zM306.61 322.12h10V323.82h-10zM350.89 342.03h10V352.19h-10zM373.03 370.16h10V376.41h-10zM395.17 351.69h10V369.66h-10zM406.24 333.25h10V350.44h-10zM428.38 300.12h10V335.59h-10zM439.45 284.19h10V299.34h-10zM450.52 271.22h10V283.72h-10zM461.59 269.2h10V270.9h-10zM472.66 261.38h10V268.88h-10zM483.73 251.38h10V260.28h-10zM505.87 262.31h10V277h-10zM550.15 327.34h10V361.25h-10zM561.22 326.18h10V327.88h-10zM616.57 390.31h10V396.09h-10zM627.64 378.91h10V389.84h-10zM638.71 363.75h10V378.12h-10zM671.92 367.5h10V386.72h-10zM682.99 360.16h10V367.5h-10zM694.06 354.69h10V359.69h-10zM705.13 332.5h10V354.69h-10zM760.48 371.88h10V381.25h-10zM771.55 367.5h10V371.88h-10zM782.62 362.81h10V367.97h-10zM815.83 417.03h10V434.22h-10zM837.97 420.94h10V436.25h-10zM860.11 410.78h10V429.06h-10zM871.18 399.84h10V409.69h-10zM926.53 483.12h10V490h-10zM959.74 504.53h10V510h-10zM1015.09 552.19h10V569.06h-10zM1026.16 540.94h10V552.19h-10zM1048.3 522.97h10V547.97h-10zM1059.37 516.72h10V522.5h-10zM1114.72 516.72h10V556.25h-10zM1125.79 498.44h10V516.25h-10zM1170.07 524.53h10V532.34h-10zM1181.14 521.34h10V523.04h-10zM1192.21 505.78h10V521.41h-10zM1214.35 507.34h10V509.69h-10zM1269.7 544.06h10V554.22h-10zM1302.91 542.19h10V562.5h-10zM1313.98 539.69h10V542.19h-10zM1325.05 537.5h10V540.31h-10zM1358.26 545h10V547.19h-10zM1380.4 547.74h10V549.44h-10zM1391.47 543.75h10V548.44h-10zM1402.54 544.85h10V546.55h-10zM1424.68 539.38h10V548.75h-10zM1446.82 537.19h10V546.09h-10zM1457.89 527.34h10V536.72h-10zM1468.96 522.19h10V527.34h-10zM1480.03 515.31h10V522.19h-10zM1491.1 496.56h10V514.38h-10zM1557.52 520.62h10V523.75h-10zM1568.59 517.19h10V520h-10zM1579.66 484.69h10V517.97h-10zM1590.73 472.66h10V483.59h-10zM1612.87 482.35h10V484.05h-10zM1668.22 532.03h10V540.62h-10zM1679.29 530.01h10V531.71h-10zM1690.36 529.38h10V531.08h-10zM1723.57 540.78h10V554.06h-10zM1734.64 534.06h10V540.78h-10zM1745.71 531.57h10V533.27h-10zM1801.06 616.56h10V629.53h-10zM1845.34 681.56h10V742.5h-10zM1867.48 682.66h10V691.25h-10zM1922.83 694.38h10V715h-10zM1933.9 686.56h10V694.69h-10zM1956.04 693.92h10V695.62h-10zM1989.25 709.22h10V713.91h-10zM2000.32 700.62h10V709.22h-10zM2011.39 699.7h10V701.4h-10zM2055.67 701.88h10V732.66h-10zM2088.88 710.31h10V717.81h-10zM2111.02 695.16h10V718.59h-10zM2133.16 664.38h10V698.28h-10zM2188.51 698.28h10V717.03h-10zM2199.58 686.56h10V697.5h-10zM2210.65 683.44h10V685.31h-10zM2221.72 681.56h10V683.44h-10zM2233.2 666.25h3.8V681.09h-3.8z" fill="#5bc49b"/>
<path d="M63.07 347.81h10V380.31h-10zM85.21 377.19h10V382.19h-10zM129.49 354.53h10V362.66h-10zM140.56 361.42h10V363.12h-10zM151.63 362.66h10V367.03h-10zM184.84 351.88h10V356.09h-10zM229.12 319.15h10V320.85h-10zM240.19 320.62h10V325.94h-10zM273.4 313.44h10V317.03h-10zM295.54 311.88h10V323.28h-10zM317.68 322.5h10V326.41h-10zM328.75 325.94h10V345.94h-10zM339.82 346.25h10V352.19h-10zM361.96 341.56h10V375.94h-10zM384.1 369.7h10V371.4h-10zM417.31 333.25h10V336.06h-10zM494.8 251.69h10V276.69h-10zM516.94 262.31h10V274.81h-10zM528.01 275.44h10V342.19h-10zM539.08 345h10V361.25h-10zM572.29 326.56h10V342.5h-10zM583.36 344.06h10V361.25h-10zM594.43 362.19h10V382.03h-10zM605.5 382.81h10V395.62h-10zM649.78 363.75h10V380.47h-10zM660.85 380.94h10V385.94h-10zM716.2 332.03h10V335.16h-10zM727.27 335.62h10V344.53h-10zM738.34 345.31h10V367.19h-10zM749.41 367.97h10V380.94h-10zM793.69 363.75h10V395.31h-10zM804.76 395.62h10V433.44h-10zM826.9 417.03h10V436.56h-10zM849.04 421.25h10V429.06h-10zM882.25 400.31h10V423.28h-10zM893.32 424.06h10V433.44h-10zM904.39 435h10V448.28h-10zM915.46 450.62h10V490.94h-10zM937.6 483.44h10V492.03h-10zM948.67 494.38h10V510h-10zM970.81 503.75h10V514.38h-10zM981.88 515.62h10V552.66h-10zM992.95 555h10V565.16h-10zM1004.02 565.94h10V569.06h-10zM1037.23 540.62h10V547.97h-10zM1070.44 516.72h10V519.38h-10zM1081.51 519.77h10V521.48h-10zM1092.58 520.31h10V523.44h-10zM1103.65 524.53h10V555.78h-10zM1136.86 499.53h10V508.91h-10zM1147.93 510h10V531.25h-10zM1159 531.18h10V532.88h-10zM1203.28 505.78h10V510h-10zM1225.42 507.34h10V524.53h-10zM1236.49 523.76h10V525.46h-10zM1247.56 525h10V540.62h-10zM1258.63 541.72h10V554.22h-10zM1280.77 544.06h10V556.88h-10zM1291.84 556.88h10V562.81h-10zM1336.12 537.27h10V538.98h-10zM1347.19 539.06h10V546.88h-10zM1369.33 545.62h10V549.22h-10zM1413.61 543.75h10V549.69h-10zM1435.75 539.38h10V546.56h-10zM1502.17 495.79h10V497.49h-10zM1513.24 497.66h10V515.94h-10zM1524.31 516.88h10V518.75h-10zM1535.38 518.75h10V523.12h-10zM1546.45 522.12h10V523.82h-10zM1601.8 472.19h10V482.5h-10zM1623.94 482.81h10V486.25h-10zM1635.01 486.72h10V497.66h-10zM1646.08 498.44h10V506.56h-10zM1657.15 506.56h10V539.84h-10zM1701.43 530.31h10V533.75h-10zM1712.5 534.06h10V553.75h-10zM1756.78 533.75h10V569.38h-10zM1767.85 570h10V573.12h-10zM1778.92 573.59h10V615.78h-10zM1789.99 617.81h10V629.06h-10zM1812.13 617.03h10V640h-10zM1823.2 640.94h10V660.78h-10zM1834.27 661.88h10V743.59h-10zM1856.41 681.56h10V690.47h-10zM1878.55 682.35h10V684.05h-10zM1889.62 684.69h10V694.69h-10zM1900.69 694.69h10V708.75h-10zM1911.76 709.22h10V715h-10zM1944.97 686.88h10V695.16h-10zM1967.11 694.38h10V704.53h-10zM1978.18 705.62h10V713.91h-10zM2022.46 701.41h10V703.75h-10zM2033.53 704.53h10V727.97h-10zM2044.6 728.75h10V732.19h-10zM2066.74 701.88h10V705.31h-10zM2077.81 706.09h10V717.81h-10zM2099.95 710h10V718.59h-10zM2122.09 695.16h10V699.06h-10zM2144.23 664.38h10V677.97h-10zM2155.3 678.44h10V699.84h-10zM2166.37 699.84h10V706.88h-10zM2177.44 707.66h10V717.03h-10z" fill="#ef6860"/>
</g>
<path d="M2281 229V769" stroke="#8c8c8c" stroke-width="2.6"/>
<path d="M2366.5 229V769" stroke="#b9524d" stroke-width="2.6"/>
<path d="M2451.6 494.5H2454V752L2451.6 749z" fill="#5bc49b"/>
<g font-family="Liberation Sans, sans-serif" font-size="16.8" fill="#9095aa" stroke="#9095aa" stroke-width="0.35">
<text x="2293" y="235.3">127K</text>
<text x="2293" y="301.3">118K</text>
<text x="2293" y="369.3">110K</text>
<text x="2293" y="437.3">101K</text>
<text x="2293" y="503.3">93.4K</text>
<text x="2293" y="570.8">84.9K</text>
<text x="2293" y="639.3">76.4K</text>
<text x="2293" y="705.3">67.9K</text>
<text x="2293" y="773.3">59.4K</text>
<text x="2376.5" y="235.3">0.018%</text>
<text x="2376.5" y="323.8">0.012%</text>
<text x="2376.5" y="413.8">0.006%</text>
<text x="2376.5" y="503.3">0%</text>
<text x="2376.5" y="570.8">-0.004%</text>
<text x="2376.5" y="639.3">-0.009%</text>
<text x="2376.5" y="705.3">-0.013%</text>
<text x="2376.5" y="773.3">-0.018%</text>
<text x="100.5" y="790" text-anchor="middle">27 Aug 25</text>
<text x="238" y="790" text-anchor="middle">13 Sep 25</text>
<text x="423" y="790" text-anchor="middle">30 Sep 25</text>
<text x="607" y="790" text-anchor="middle">16 Oct 25</text>
<text x="791" y="790" text-anchor="middle">02 Nov 25</text>
<text x="976" y="790" text-anchor="middle">19 Nov 25</text>
<text x="1160" y="790" text-anchor="middle">05 Dec 25</text>
<text x="1345" y="790" text-anchor="middle">22 Dec 25</text>
<text x="1529" y="790" text-anchor="middle">08 Jan 26</text>
<text x="1714" y="790" text-anchor="middle">24 Jan 26</text>
<text x="1899" y="790" text-anchor="middle">10 Feb 26</text>
<text x="2083" y="790" text-anchor="middle">27 Feb 26</text>
<text x="2273" y="790" text-anchor="middle">13 Mar 26</text>
</g>
<rect x="2286" y="654.5" width="55.5" height="22.5" fill="#8f8f8f"/><text x="2293" y="671.5" font-family="Liberation Sans, sans-serif" font-size="16.8" fill="#fff">72.4K</text>
<rect x="2370.5" y="425.5" width="69" height="22.5" fill="#ee6961"/><text x="2376.5" y="442.5" font-family="Liberation Sans, sans-serif" font-size="16.8" fill="#fff">0.004%</text>
<rect x="54" y="821.5" width="2394.5" height="65" rx="7" fill="none" stroke="#2c3046" stroke-width="1.6"/>
<rect x="2346" y="822" width="102" height="70" fill="#272a3d"/>
<path d="M1905 882 L1925 880.5 L1945 879.5 L1960 880 L1972 877 L1975.5 866 L1979 878 L1995 879 L2008 876 L2018 878 L2028 872 L2034 858 L2036 848 L2038.5 864 L2044 874 L2054 872 L2064 866 L2069 850 L2071 822 L2073 850 L2077 862 L2083 868 L2092 877 L2110 878 L2122 876 L2135 879 L2155 880 L2160 882.5 L2168 880.5 L2185 877.5 L2195 872 L2198 855 L2200 854 L2203 866 L2208 870 L2214 875 L2226 872 L2229 868 L2232 876 L2250 878 L2270 879 L2283 881 L2290 878.5 L2300 880 L2310 882 L2318 879 L2335 877.5 L2346 878 L2346 883 L1905 883z" fill="#2d3146"/>
<path d="M2348 877.5h5v3h-5zM2357 878.5h7v2h-7zM2371 877h9v3.5h-9zM2386 878h8v2.5h-8zM2400 877h12v3.5h-12zM2418 878h7v2.5h-7zM2430 878.5h8v2h-8z" fill="#2c6e40"/>
<path d="M2359 881h2.5v2.5h-2.5zM2393 881.5h3v2h-3zM2407 881.5h6v2h-6zM2427 881h3v2h-3zM2437 881h7v3h-7z" fill="#7c2828"/>
<rect x="2342.5" y="842" width="8" height="27" rx="2" fill="#b9c0e4"/><rect x="2442" y="842" width="7" height="27" rx="2" fill="#b9c0e4"/>
</svg>
<div class="chip" style="left:53px;width:233px;background:#222538"><div class="bar" style="background:#8a8a8a"></div><div class="t" style="left:17px">Price (BTC)</div></div>
<div class="chip" style="left:300px;width:610px"><div class="bar" style="background:#e8625b"></div><div class="t" style="left:16.5px;letter-spacing:0.72px">Total Funding Rates Aggregated by Asset (BTC)</div></div>
<div class="btc" style="left:269.5px;top:97px">₿</div>
<div class="btc" style="left:894px;top:97px">₿</div>
<div class="set" style="left:53.6px;width:155.5px"><span style="left:0;letter-spacing:0.22px">Style: Candles</span></div>
<div class="set" style="left:235px;width:44px"></div>
<div class="set" style="left:306.4px;width:163.6px"><span style="left:41.2px">Interval: 1d</span></div>
<div class="set" style="left:497.6px;width:120px"><span style="left:0;letter-spacing:0.42px">Indicators:</span></div>
<div class="set" style="left:645px;width:131px;border-bottom-color:#2b2f44"><span style="left:0;letter-spacing:0.2px">Show axis</span></div>
<div class="set" style="left:803.6px;width:108px;border-bottom-color:#2b2f44"><span style="left:0">Pin axis</span></div>
<div class="set" style="left:940.5px;width:248px"><span style="left:0;letter-spacing:0.44px">Axis max/min: Auto/Auto</span></div>
<div class="set" style="left:1217px;width:178px;border-bottom-color:#2b2f44"><span style="left:26px;letter-spacing:0.44px">Combine metrics</span></div>
<svg width="2560" height="240" viewBox="0 0 2560 240" style="position:absolute;left:0;top:0" fill="none" stroke="#8a8fa6" stroke-width="1.65" stroke-linecap="round" stroke-linejoin="round">
<!-- line tool -->
<circle cx="71.5" cy="74" r="3.6"/><circle cx="88" cy="56.5" r="3.6"/><path d="M74 71.3L85.5 59.2"/>
<!-- hline -->
<circle cx="135" cy="65" r="3.6"/><path d="M121.5 65H131M139 65H148.5"/>
<!-- vline -->
<circle cx="189.5" cy="65" r="3.6"/><path d="M189.5 51V61M189.5 69V78.5"/>
<!-- note -->
<path d="M235.5 53.5H253a2.5 2.5 0 0 1 2.500 2.500V66.500L246.500 75.500H235.500a2.500 2.500 0 0 1 -2.500 -2.500V56a2.500 2.500 0 0 1 2.500 -2.500zM255.500 66.500H249a2.500 2.500 0 0 0 -2.500 2.500V75.500"/>
<!-- smiley -->
<circle cx="298.3" cy="65" r="11.6"/><path d="M292.300 68.500a7 7 0 0 0 12 0"/><circle cx="294.300" cy="61.500" r="1.700" fill="#8a8fa6" stroke="none"/><circle cx="302.300" cy="61.500" r="1.700" fill="#8a8fa6" stroke="none"/>
<!-- separator -->
<path d="M339.500 46V84.500" stroke="#2c3046" stroke-width="1.600"/>
<!-- eye -->
<path d="M367.500 65C372 58 376 56.500 380.300 56.500S388.500 58 393 65C388.500 72 384.500 73.500 380.300 73.500S372 72 367.500 65z"/><circle cx="380.300" cy="65" r="3.600"/>
<!-- vertical dots + x in chips -->
<g fill="#8d92a8" stroke="none"><circle cx="218.300" cy="124.500" r="1.500"/><circle cx="218.300" cy="132.500" r="1.500"/><circle cx="218.300" cy="140.500" r="1.500"/><circle cx="841.900" cy="124.500" r="1.500"/><circle cx="841.900" cy="132.500" r="1.500"/><circle cx="841.900" cy="140.500" r="1.500"/></g>
<path d="M255 129.500l7.500 7.500M262.500 129.500l-7.500 7.500M878.300 129.500l7.500 7.500M885.800 129.500l-7.500 7.500" stroke="#5d627a" stroke-width="1.600"/>
<!-- chevrons -->
<path d="M198 189.500l4.500 4.500 4.500 -4.500M268.500 189.500l4.500 4.500 4.500 -4.500M459.800 189.500l4.500 4.500 4.500 -4.500M606.700 189.500l4.500 4.500 4.500 -4.500M1177.500 189.500l4.500 4.500 4.500 -4.500" stroke-width="1.55"/>
<!-- grey square -->
<rect x="235" y="183" width="17" height="17" rx="2.500" fill="#9b9b9b" stroke="none"/>
<!-- ruler -->
<path d="M307.400 183.500H332a1 1 0 0 1 1 1V199.500a1 1 0 0 1 -1 1H307.400a1 1 0 0 1 -1 -1V184.500a1 1 0 0 1 1 -1zM313 183.500V190M319.800 183.500V190M326.500 183.500V190"/>
<!-- checkboxes -->
<rect x="749.300" y="179" width="27" height="26.500" rx="3" fill="#5bc49b" stroke="none"/><path d="M757 192.500l3.800 3.800 7 -8" stroke="#fff" stroke-width="2"/>
<rect x="887.500" y="179.500" width="24.500" height="25.500" rx="3" stroke="#2c3046" stroke-width="1.600"/>
<!-- plus -->
<path d="M1216.500 192H1227M1221.750 186.750V197.250" stroke-width="1.600"/>
<!-- download -->
<path d="M2219.500 52.500h-3.500v10.500h-5.500l9 9.500 9 -9.500h-5.500V52.500zM2206.500 70v8.500h26.500V70"/>
<!-- code -->
<path d="M2279 56.500l-9.500 8.500 9.500 8.500M2293 56.500l9.500 8.500 -9.500 8.500M2289.500 55.500L2282.500 74.500"/>
<!-- fullscreen -->
<path d="M2411.500 59V53.500H2417M2411.500 53.500l7 7M2428 53.500H2433.500V59M2433.500 53.500l-7 7M2411.500 70.500V76H2417M2411.500 76l7 -7M2428 76H2433.500V70.500M2433.500 76l-7 -7" stroke-width="1.55"/>
<path d="M2351.2 51.5 L2355.8 51.5 L2356.0 54.6 L2358.7 55.7 L2361.1 53.7 L2364.3 56.9 L2362.3 59.3 L2363.4 62.0 L2366.5 62.2 L2366.5 66.8 L2363.4 67.0 L2362.3 69.7 L2364.3 72.1 L2361.1 75.3 L2358.7 73.3 L2356.0 74.4 L2355.8 77.5 L2351.2 77.5 L2351.0 74.4 L2348.3 73.3 L2345.9 75.3 L2342.7 72.1 L2344.7 69.7 L2343.6 67.0 L2340.5 66.8 L2340.5 62.2 L2343.6 62.0 L2344.7 59.3 L2342.7 56.9 L2345.9 53.7 L2348.3 55.7 L2351.0 54.6z" stroke-linejoin="round"/><circle cx="2353.5" cy="64.5" r="4.6"/>
</svg>

</div>
<div id="cap">via app.santiment.net</div>
</body></html>
